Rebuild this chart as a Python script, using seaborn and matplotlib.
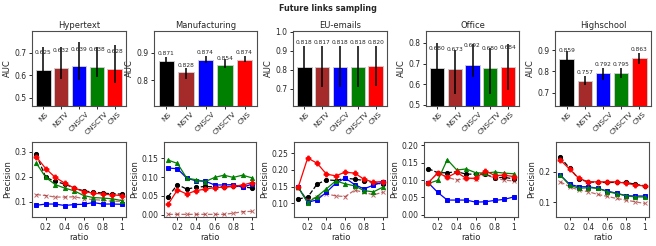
import numpy as np
import pandas as pd
import seaborn as sns
import matplotlib
matplotlib.use("Agg")
import matplotlib.pyplot as plt
from matplotlib.ticker import MultipleLocator

# data
DATASETS = ["Hypertext", "Manufacturing", "EU-emails", "Office", "Highschool"]
METHODS = ["NS", "NSTV", "CNSCV", "CNSCTV", "CNS"]
RATIOS = [0.1, 0.2, 0.3, 0.4, 0.5, 0.6, 0.7, 0.8, 0.9, 1.0]

auc_hypertext = [0.625, 0.632, 0.639, 0.638, 0.628]
auc_manufacturing = [0.871, 0.828, 0.874, 0.854, 0.874]
auc_eu = [0.818, 0.817, 0.818, 0.818, 0.820]
auc_office = [0.680, 0.673, 0.692, 0.680, 0.684]
auc_highschool = [0.859, 0.757, 0.792, 0.795, 0.863]

# error bars (lower, upper)
err_lo_hypertext = [0.060, 0.049, 0.060, 0.047, 0.064]
err_hi_hypertext = [0.100, 0.093, 0.106, 0.087, 0.106]
err_lo_manufacturing = [0.015, 0.024, 0.011, 0.008, 0.007]
err_hi_manufacturing = [0.015, 0.018, 0.016, 0.024, 0.013]
err_lo_eu = [0.108, 0.107, 0.106, 0.108, 0.106]
err_hi_eu = [0.108, 0.109, 0.108, 0.108, 0.107]
err_lo_office = [0.100, 0.120, 0.057, 0.127, 0.113]
err_hi_office = [0.120, 0.095, 0.103, 0.096, 0.111]
err_lo_highschool = [0.035, 0.022, 0.030, 0.026, 0.030]
err_hi_highschool = [0.036, 0.022, 0.026, 0.022, 0.026]

prec_hypertext = {
    "NS": [0.289, 0.197, 0.181, 0.170, 0.154, 0.143, 0.138, 0.134, 0.131, 0.130],
    "NSTV": [0.128, 0.124, 0.118, 0.118, 0.119, 0.112, 0.108, 0.105, 0.101, 0.101],
    "CNSCV": [0.085, 0.090, 0.090, 0.084, 0.088, 0.089, 0.096, 0.090, 0.090, 0.089],
    "CNSCTV": [0.254, 0.197, 0.168, 0.154, 0.143, 0.124, 0.116, 0.114, 0.111, 0.104],
    "CNS": [0.280, 0.232, 0.197, 0.174, 0.154, 0.140, 0.134, 0.130, 0.127, 0.124],
}
prec_manufacturing = {
    "NS": [0.048, 0.080, 0.068, 0.073, 0.075, 0.074, 0.074, 0.076, 0.074, 0.071],
    "NSTV": [0.001, 0.001, 0.001, 0.001, 0.001, 0.001, 0.001, 0.004, 0.008, 0.009],
    "CNSCV": [0.124, 0.122, 0.097, 0.090, 0.089, 0.079, 0.079, 0.080, 0.073, 0.081],
    "CNSCTV": [0.145, 0.136, 0.097, 0.093, 0.088, 0.099, 0.105, 0.099, 0.105, 0.098],
    "CNS": [0.028, 0.066, 0.055, 0.064, 0.068, 0.072, 0.073, 0.075, 0.079, 0.085],
}
prec_eu = {
    "NS": [0.113, 0.118, 0.157, 0.170, 0.168, 0.175, 0.172, 0.168, 0.162, 0.157],
    "NSTV": [0.145, 0.110, 0.118, 0.128, 0.122, 0.120, 0.139, 0.133, 0.125, 0.133],
    "CNSCV": [0.148, 0.103, 0.110, 0.133, 0.160, 0.175, 0.156, 0.143, 0.154, 0.163],
    "CNSCTV": [0.148, 0.102, 0.120, 0.143, 0.167, 0.158, 0.152, 0.138, 0.134, 0.148],
    "CNS": [0.148, 0.235, 0.220, 0.187, 0.182, 0.193, 0.190, 0.172, 0.163, 0.165],
}
prec_office = {
    "NS": [0.133, 0.121, 0.121, 0.124, 0.117, 0.117, 0.117, 0.106, 0.108, 0.103],
    "NSTV": [0.092, 0.120, 0.108, 0.100, 0.105, 0.104, 0.117, 0.105, 0.100, 0.097],
    "CNSCV": [0.092, 0.064, 0.042, 0.042, 0.042, 0.036, 0.037, 0.041, 0.044, 0.051],
    "CNSCTV": [0.090, 0.099, 0.159, 0.129, 0.132, 0.121, 0.120, 0.123, 0.120, 0.118],
    "CNS": [0.092, 0.121, 0.108, 0.122, 0.105, 0.105, 0.127, 0.113, 0.114, 0.110],
}
prec_highschool = {
    "NS": [0.247, 0.211, 0.175, 0.167, 0.165, 0.165, 0.165, 0.165, 0.159, 0.154],
    "NSTV": [0.167, 0.151, 0.140, 0.135, 0.126, 0.120, 0.113, 0.108, 0.102, 0.097],
    "CNSCV": [0.189, 0.159, 0.151, 0.151, 0.146, 0.137, 0.130, 0.122, 0.121, 0.121],
    "CNSCTV": [0.189, 0.156, 0.146, 0.148, 0.146, 0.135, 0.129, 0.122, 0.118, 0.118],
    "CNS": [0.238, 0.208, 0.178, 0.167, 0.167, 0.167, 0.167, 0.162, 0.157, 0.153],
}

AUCS = [auc_hypertext, auc_manufacturing, auc_eu, auc_office, auc_highschool]
ERR_LO = [err_lo_hypertext, err_lo_manufacturing, err_lo_eu, err_lo_office, err_lo_highschool]
ERR_HI = [err_hi_hypertext, err_hi_manufacturing, err_hi_eu, err_hi_office, err_hi_highschool]
PRECS = [prec_hypertext, prec_manufacturing, prec_eu, prec_office, prec_highschool]

# layout / style
COLORS = {"NS": "black", "NSTV": "brown", "CNSCV": "blue", "CNSCTV": "green", "CNS": "red"}
LINE_STYLE = {
    "NS": dict(marker="o", linestyle="--", ms=3),
    "NSTV": dict(marker="x", linestyle="--", ms=3, alpha=0.7),
    "CNSCV": dict(marker="s", linestyle="-", ms=3),
    "CNSCTV": dict(marker="^", linestyle="-", ms=3),
    "CNS": dict(marker="P", linestyle="-", ms=3.5),
}
AUC_YLIM = [(0.464, 0.795), (0.704, 0.981), (0.61, 1.005), (0.495, 0.858), (0.638, 0.99)]
LABEL_OFF = [0.075, 0.027, 0.125, 0.095, 0.04]
PREC_YLIM = [(0.038, 0.339), (-0.006, 0.193), (0.059, 0.283), (-0.007, 0.21), (0.053, 0.296)]
PREC_STEP = [0.1, 0.05, 0.05, 0.05, 0.1]
TOP_X = [(32, 126), (154, 257), (293, 387), (426, 519), (555, 651)]
BOT_X = [(32, 126), (164, 256), (294, 387), (424, 518), (556, 649)]
W, H = 656, 246

sns.set_style("ticks", {"axes.edgecolor": "0.3"})
plt.rcParams["font.family"] = ["DejaVu Sans"]
plt.rcParams["font.size"] = 5

fig = plt.figure(figsize=(W / 100, H / 100), dpi=100)
fig.suptitle("Future links sampling", fontsize=5.8, fontweight="bold", y=0.985)


def rect(x0, x1, ytop, ybot):
    return [x0 / W, 1 - ybot / H, (x1 - x0) / W, (ybot - ytop) / H]


for i, name in enumerate(DATASETS):
    # AUC bars
    ax = fig.add_axes(rect(*TOP_X[i], 31, 106))
    df = pd.DataFrame({"method": METHODS, "auc": AUCS[i]})
    sns.barplot(data=df, x="method", y="auc", hue="method", palette=COLORS, saturation=1,
                width=0.8, edgecolor="0.8", linewidth=0.7, legend=False, ax=ax)
    ax.errorbar(range(len(METHODS)), AUCS[i], yerr=[ERR_LO[i], ERR_HI[i]], fmt="none",
                ecolor="black", elinewidth=1.1, capsize=0)
    for j, v in enumerate(AUCS[i]):
        ax.text(j, v + LABEL_OFF[i], f"{v:.3f}", ha="center", va="center", fontsize=4.2)
    ax.set_ylim(*AUC_YLIM[i])
    ax.yaxis.set_major_locator(MultipleLocator(0.1))
    ax.set_title(name, fontsize=6, pad=2.5)
    ax.set_xlabel("")
    ax.set_ylabel("AUC", fontsize=6, labelpad=1.5)
    ax.tick_params(axis="x", labelrotation=45, labelsize=5.2, length=2.5, width=0.7, pad=1)
    ax.tick_params(axis="y", labelsize=5.5, length=2.5, width=0.7, pad=1.5)
    for s in ax.spines.values():
        s.set_linewidth(0.8)

    # precision curves
    ax2 = fig.add_axes(rect(*BOT_X[i], 142, 217))
    for m in METHODS:
        st = LINE_STYLE[m]
        sns.lineplot(x=RATIOS, y=PRECS[i][m], color=COLORS[m], marker=st["marker"],
                     linestyle=st["linestyle"], markersize=st["ms"], alpha=st.get("alpha", 1),
                     markeredgecolor=COLORS[m], markeredgewidth=0.7, linewidth=0.9, ax=ax2)
    ax2.set_ylim(*PREC_YLIM[i])
    ax2.yaxis.set_major_locator(MultipleLocator(PREC_STEP[i]))
    ax2.set_xticks([0.2, 0.4, 0.6, 0.8, 1.0])
    ax2.set_xticklabels(["0.2", "0.4", "0.6", "0.8", "1"])
    ax2.set_xlabel("ratio", fontsize=6, labelpad=1)
    ax2.set_ylabel("Precision", fontsize=6, labelpad=1.5)
    ax2.tick_params(labelsize=5.5, length=2.5, width=0.7, pad=1.5)
    for s in ax2.spines.values():
        s.set_linewidth(0.8)

fig.savefig("out.png", dpi=100)
